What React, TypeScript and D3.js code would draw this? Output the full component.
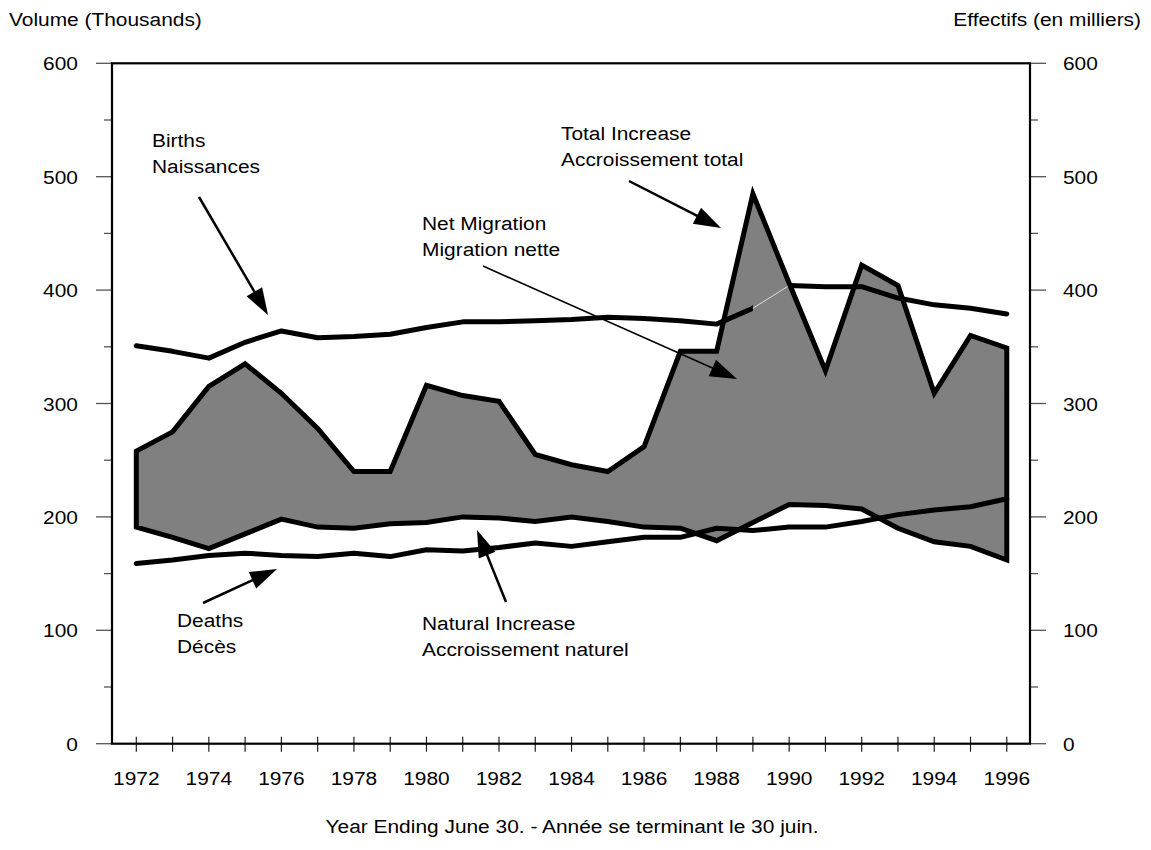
import * as d3 from "d3";

// year ending June 30, values in thousands
const years = [1972, 1973, 1974, 1975, 1976, 1977, 1978, 1979, 1980, 1981, 1982, 1983, 1984, 1985, 1986, 1987, 1988, 1989, 1990, 1991, 1992, 1993, 1994, 1995, 1996];
const births = [351, 346, 340, 354, 364, 358, 359, 361, 367, 372, 372, 373, 374, 376, 375, 373, 370, 384, 404, 403, 403, 393, 387, 384, 379];
const deaths = [159, 162, 166, 168, 166, 165, 168, 165, 171, 170, 173, 177, 174, 178, 182, 182, 190, 188, 191, 191, 196, 202, 206, 209, 216];
const naturalIncrease = [191, 182, 172, 185, 198, 191, 190, 194, 195, 200, 199, 196, 200, 196, 191, 190, 179, 195, 211, 210, 207, 190, 178, 174, 162];
const totalIncrease = [258, 275, 315, 335, 309, 278, 240, 240, 316, 307, 302, 255, 246, 240, 262, 346, 346, 485, 406, 329, 422, 404, 309, 360, 349];

const yTicks = [0, 100, 200, 300, 400, 500, 600];
const yMinorTicks = [50, 150, 250, 350, 450, 550];
const xLabelYears = [1972, 1974, 1976, 1978, 1980, 1982, 1984, 1986, 1988, 1990, 1992, 1994, 1996];

const W = 1151;
const H = 850;
const FONT = "Liberation Sans, Arial, Helvetica, sans-serif";
const SX = 1.1; // the original lettering is a bit wide

const x = d3.scaleLinear().domain([1971.33, 1996.64]).range([112, 1030]);
const y = d3.scaleLinear().domain([0, 600]).range([743.7, 63.3]);

type Row = { year: number; b: number; d: number; n: number; t: number };
const rows: Row[] = years.map((yr, i) => ({ year: yr, b: births[i], d: deaths[i], n: naturalIncrease[i], t: totalIncrease[i] }));

const line = (key: "b" | "d" | "n" | "t") =>
  d3.line<Row>().x(r => x(r.year)).y(r => y(r[key]));
const migArea = d3.area<Row>().x(r => x(r.year)).y0(r => y(r.n)).y1(r => y(r.t));

function Label({ x, y, anchor = "start", size = 19, children }: any) {
  return (
    <text transform={`translate(${x},${y}) scale(${SX},1)`} textAnchor={anchor} fontSize={size} fontFamily={FONT} fill="#000">
      {children}
    </text>
  );
}

function Arrow({ x1, y1, x2, y2, w = 2.5, len = 27, half = 9 }: any) {
  const dx = x2 - x1, dy = y2 - y1;
  const L = Math.hypot(dx, dy);
  const ux = dx / L, uy = dy / L;
  const bx = x2 - ux * len, by = y2 - uy * len;
  const pts = [[x2, y2], [bx - uy * half, by + ux * half], [bx + uy * half, by - ux * half]];
  return (
    <g>
      <line x1={x1} y1={y1} x2={bx + ux * 2} y2={by + uy * 2} stroke="#000" strokeWidth={w} />
      <polygon points={pts.map(p => p.join(",")).join(" ")} fill="#000" />
    </g>
  );
}

const notes = [
  { lines: ["Births", "Naissances"], tx: 152, ty: 147, a: [199, 197, 268, 315], w: 2.5 },
  { lines: ["Total Increase", "Accroissement total"], tx: 561, ty: 140, a: [629, 181, 721, 228], w: 2.5 },
  { lines: ["Net Migration", "Migration nette"], tx: 422, ty: 230, a: [483, 266, 737, 379], w: 1.6 },
  { lines: ["Deaths", "Décès"], tx: 177, ty: 627, a: [203, 603, 277, 569], w: 2.5 },
  { lines: ["Natural Increase", "Accroissement naturel"], tx: 422, ty: 630, a: [506, 602, 477, 530], w: 2.5 },
];

export default function App() {
  const slice = rows.filter(r => r.year >= 1989 && r.year <= 1990);
  const [left, right] = x.range();
  const [bottom, top] = y.range();
  return (
    <svg width={W} height={H} style={{ position: "absolute", left: 0, top: 0, background: "#fff" }}>
      {/* axis titles */}
      <Label x={9} y={26}>Volume (Thousands)</Label>
      <Label x={1141} y={26} anchor="end">Effectifs (en milliers)</Label>
      <Label x={572} y={833} anchor="middle">Year Ending June 30. - Année se terminant le 30 juin.</Label>

      {/* y ticks both sides */}
      {yTicks.map(v => (
        <g key={v}>
          <line x1={left - 16} x2={left} y1={y(v)} y2={y(v)} stroke="#555" strokeWidth={1.3} />
          <line x1={right} x2={right + 16} y1={y(v)} y2={y(v)} stroke="#555" strokeWidth={1.3} />
          <Label x={78} y={y(v) + 7} anchor="end">{v}</Label>
          <Label x={1063} y={y(v) + 7}>{v}</Label>
        </g>
      ))}
      {yMinorTicks.map(v => (
        <g key={v}>
          <line x1={left - 8} x2={left} y1={y(v)} y2={y(v)} stroke="#555" strokeWidth={1.3} />
          <line x1={right} x2={right + 8} y1={y(v)} y2={y(v)} stroke="#555" strokeWidth={1.3} />
        </g>
      ))}
      {/* x ticks */}
      {years.map(yr => (
        <line key={yr} x1={x(yr)} x2={x(yr)} y1={bottom - 7} y2={bottom + 8} stroke="#222" strokeWidth={1.2} />
      ))}
      {xLabelYears.map(yr => (
        <Label key={yr} x={x(yr)} y={785} anchor="middle">{yr}</Label>
      ))}

      {/* net migration band */}
      <path d={migArea(rows) || ""} fill="#808080" stroke="none" />
      <path d={line("b")(rows) || ""} fill="none" stroke="#000" strokeWidth={5} strokeLinecap="round" strokeLinejoin="round" />
      <path d={migArea(slice) || ""} fill="#808080" stroke="none" />
      <path d={line("b")(slice) || ""} fill="none" stroke="#ddd" strokeWidth={1} />
      <path d={migArea(rows) || ""} fill="none" stroke="#000" strokeWidth={5} strokeLinejoin="miter" strokeMiterlimit={10} />
      <path d={line("d")(rows) || ""} fill="none" stroke="#000" strokeWidth={5} strokeLinecap="round" strokeLinejoin="round" />

      {/* frame */}
      <rect x={left} y={top} width={right - left} height={bottom - top} fill="none" stroke="#000" strokeWidth={2.2} />

      {/* annotations */}
      {notes.map((n, i) => (
        <g key={i}>
          {n.lines.map((t, j) => (
            <Label key={j} x={n.tx} y={n.ty + j * 26}>{t}</Label>
          ))}
          <Arrow x1={n.a[0]} y1={n.a[1]} x2={n.a[2]} y2={n.a[3]} w={n.w} />
        </g>
      ))}
    </svg>
  );
}
